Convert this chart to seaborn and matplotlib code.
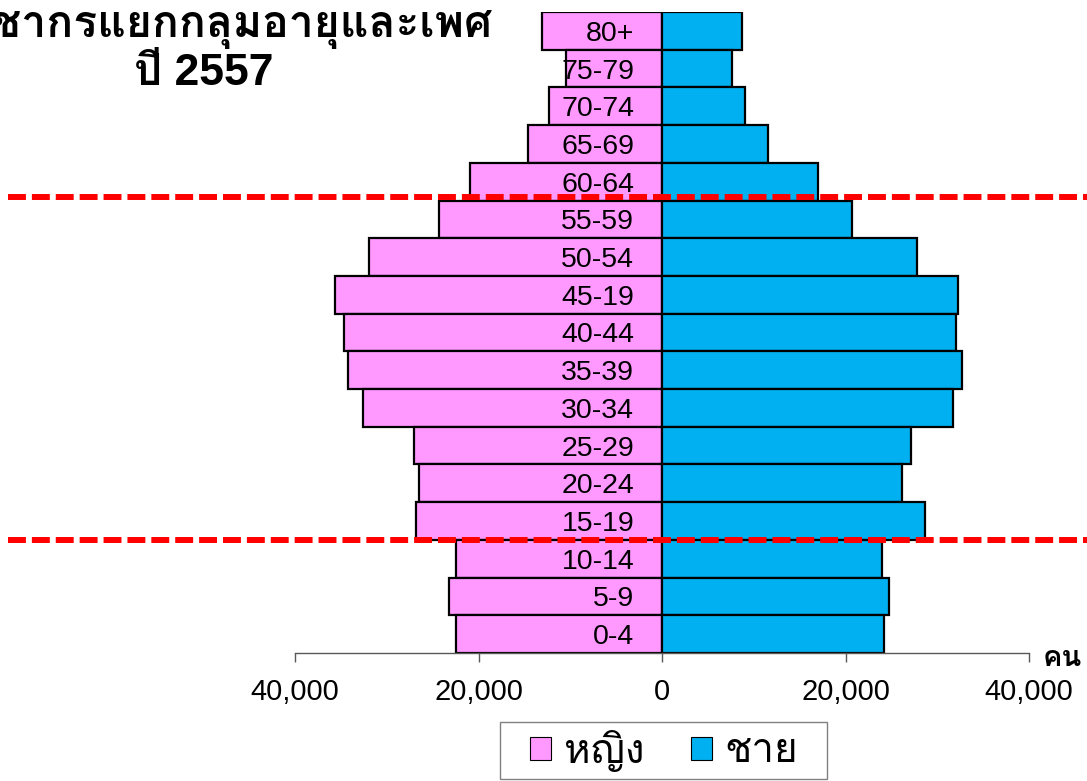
import matplotlib
matplotlib.use("Agg")
import matplotlib.pyplot as plt
import matplotlib.transforms as mtransforms
from matplotlib import font_manager, ft2font
from matplotlib.patches import Patch, Rectangle
from matplotlib.ticker import FuncFormatter
import pandas as pd
import seaborn as sns

# ---- data -------------------------------------------------------------
age_groups = ["80+", "75-79", "70-74", "65-69", "60-64", "55-59", "50-54",
              "45-19", "40-44", "35-39", "30-34", "25-29", "20-24",
              "15-19", "10-14", "5-9", "0-4"]
female = [13100, 10500, 12300, 14600, 20900, 24300, 31900, 35600, 34700,
          34200, 32600, 27000, 26500, 26800, 22500, 23200, 22500]
male = [8750, 7600, 9050, 11550, 16950, 20700, 27800, 32300, 32000,
        32700, 31700, 27100, 26200, 28700, 24000, 24700, 24200]
sex_labels = ["หญิง", "ชาย"]
title_lines = ["ประชากรแยกกลุ่มอายุและเพศ", "ปี 2557"]
unit_label = "คน"
# boundaries of the working-age band (between 55-59/60-64 and 10-14/15-19)
band_edges = [4.4, 13.5]

PINK = "#FF99FF"
BLUE = "#00B0F0"


# ---- fonts: a Latin face plus whatever installed face covers Thai -------
def find_thai_family():
    preferred = ["Tahoma", "Loma", "Noto Sans Thai", "Noto Sans Thai UI",
                 "Garuda", "Sarabun", "Umpush", "Waree", "Kinnari", "Norasi"]
    found = []
    for f in font_manager.fontManager.ttflist:
        try:
            cmap = ft2font.FT2Font(f.fname).get_charmap()
        except Exception:
            continue
        if 0x0E01 in cmap and f.name not in found:
            found.append(f.name)
    for p in preferred:
        if p in found:
            return p
    return found[0] if found else None


thai = find_thai_family()
families = ["Liberation Sans"] + ([thai] if thai else []) + ["DejaVu Sans"]
plt.rcParams["font.family"] = families

# ---- long-form table -------------------------------------------------
df = pd.DataFrame({
    "age": age_groups * 2,
    "count": [-v for v in female] + male,
    "sex": [sex_labels[0]] * len(female) + [sex_labels[1]] * len(male),
})

W, H = 1087, 781
fig = plt.figure(figsize=(W / 100, H / 100), dpi=100)
ax = fig.add_axes([295 / W, 1 - 653 / H, 734 / W, 641 / H])

sns.barplot(data=df, x="count", y="age", hue="sex", order=age_groups,
            hue_order=sex_labels, palette=[PINK, BLUE], saturation=1,
            dodge=False, width=1.0, edgecolor="black", linewidth=1.6,
            errorbar=None, legend=False, ax=ax)

ax.set_xlim(-40000, 40000)
ax.set_ylim(len(age_groups) - 0.5, -0.5)
ax.set_xticks([-40000, -20000, 0, 20000, 40000])
ax.xaxis.set_major_formatter(FuncFormatter(lambda v, p: f"{abs(int(v)):,}"))
ax.set_xlabel("")
ax.set_ylabel("")

for s in ("top", "right"):
    ax.spines[s].set_visible(False)
ax.spines["left"].set_position(("data", 0))
ax.spines["left"].set_visible(False)
ax.spines["bottom"].set_color("#595959")
ax.spines["bottom"].set_linewidth(1.0)

ax.tick_params(axis="y", length=0, pad=20, labelsize=20.5)
ax.tick_params(axis="x", direction="out", length=6.5, width=1.0,
               color="#595959", pad=11.5, labelsize=21)
ax.yaxis.set_zorder(5)
ax.set_axisbelow(False)

# dashed red band markers spanning the full figure width
trans = mtransforms.blended_transform_factory(fig.transFigure, ax.transData)
for yv in band_edges:
    ax.plot([8 / W, 1.0], [yv, yv], transform=trans, color="#FF0000",
            lw=4.3, dashes=(3, 1), clip_on=False, zorder=6)

# unit label at the end of the axis
ax.annotate(unit_label, xy=(1, 0), xycoords="axes fraction",
            xytext=(10, -3.6), textcoords="offset points",
            ha="left", va="center", fontsize=21, fontweight="bold")

# title
fig.text(204 / W, 1 - 37 / H, title_lines[0], ha="center", va="baseline",
         fontsize=32, fontweight="bold")
fig.text(204 / W, 1 - 85 / H, title_lines[1], ha="center", va="baseline",
         fontsize=32, fontweight="bold")

# legend
handles = [Patch(facecolor=PINK, edgecolor="black", lw=0.8),
           Patch(facecolor=BLUE, edgecolor="black", lw=0.8)]
fig.legend(handles, sex_labels, loc="center", ncol=2, frameon=False,
           bbox_to_anchor=(664 / W, 1 - 750.5 / H),
           bbox_transform=fig.transFigure, fontsize=29,
           handlelength=0.52, handleheight=0.5, handletextpad=0.32,
           columnspacing=1.15, borderpad=0.1)
fig.add_artist(Rectangle((500 / W, 1 - 779 / H), 327 / W, 57 / H,
                         transform=fig.transFigure, fill=False,
                         edgecolor="#808080", lw=1.0))

fig.savefig("out.png", dpi=100)
